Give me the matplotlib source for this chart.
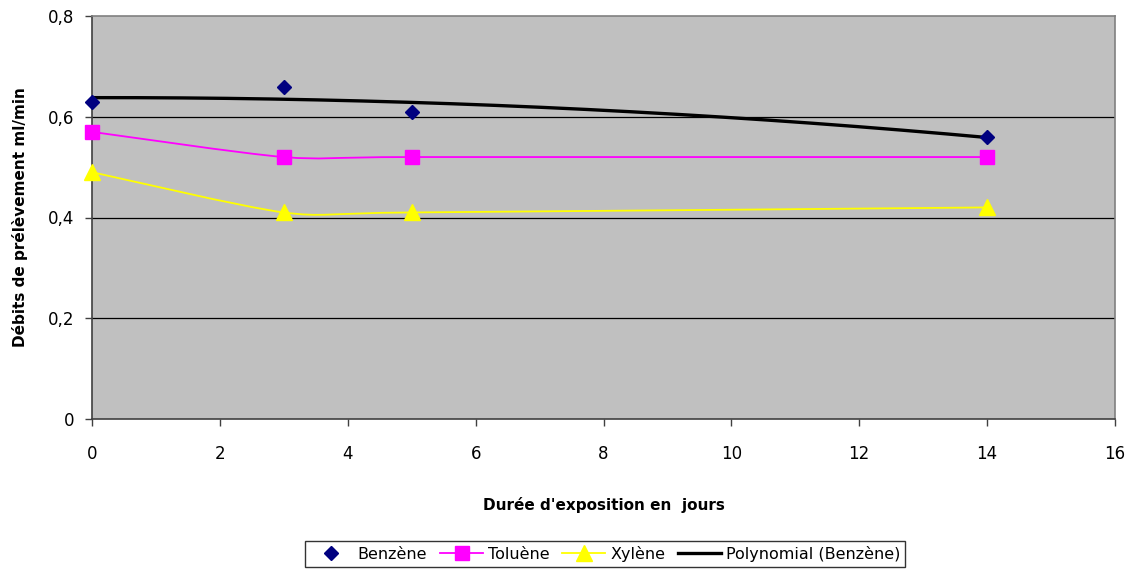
import numpy as np
import matplotlib
matplotlib.use('Agg')
import matplotlib.pyplot as plt
from matplotlib.path import Path
from matplotlib.patches import PathPatch
from matplotlib.lines import Line2D
from matplotlib.ticker import FuncFormatter

plt.rcParams['font.family'] = ['DejaVu Sans']

jours = [0, 3, 5, 14]
benzene = [0.63, 0.66, 0.61, 0.56]
toluene = [0.57, 0.52, 0.52, 0.52]
xylene = [0.49, 0.41, 0.41, 0.42]

def smooth_path(x, y, t=1/6.):
    # excel-like smoothed line (catmull-rom -> bezier)
    x = np.asarray(x, float); y = np.asarray(y, float)
    n = len(x)
    verts = [(x[0], y[0])]
    codes = [Path.MOVETO]
    for i in range(n - 1):
        i0 = max(i - 1, 0); i3 = min(i + 2, n - 1)
        c1 = (x[i] + (x[i+1] - x[i0]) * t, y[i] + (y[i+1] - y[i0]) * t)
        c2 = (x[i+1] - (x[i3] - x[i]) * t, y[i+1] - (y[i3] - y[i]) * t)
        verts += [c1, c2, (x[i+1], y[i+1])]
        codes += [Path.CURVE4] * 3
    return Path(verts, codes)

fig = plt.figure(figsize=(11.33, 5.74), dpi=100)
ax = fig.add_axes([92/1133, 1-419/574, (1115-92)/1133, (419-16)/574])
ax.set_facecolor('#C0C0C0')

for yy in [0.2, 0.4, 0.6]:
    ax.axhline(yy, color='black', lw=0.9, zorder=1)

ax.add_patch(PathPatch(smooth_path(jours, toluene, 1/8.), fc='none', ec='#FF00FF', lw=1.3, zorder=2))
ax.add_patch(PathPatch(smooth_path(jours, xylene, 1/8.), fc='none', ec='#FFFF00', lw=1.3, zorder=2))

coef = np.polyfit(jours, benzene, 2)
xs = np.linspace(0, 14, 200)
ax.plot(xs, np.polyval(coef, xs), color='black', lw=2.4, zorder=3)

ax.plot(jours, toluene, ls='none', marker='s', ms=10, color='#FF00FF', zorder=4, clip_on=False)
ax.plot(jours, xylene, ls='none', marker='^', ms=11, color='#FFFF00', zorder=4, clip_on=False)
ax.plot(jours, benzene, ls='none', marker='D', ms=7, color='#000080', zorder=5, clip_on=False)

ax.set_xlim(0, 16)
ax.set_ylim(0, 0.8)
ax.set_xticks(range(0, 17, 2))
ax.set_yticks([0, 0.2, 0.4, 0.6, 0.8])
ax.yaxis.set_major_formatter(FuncFormatter(lambda v, p: '0' if v == 0 else ('%.1f' % v).replace('.', ',')))
ax.tick_params(direction='out', length=5, width=1, labelsize=12, color='#404040', pad=8)
ax.tick_params(axis='x', pad=14)
for s in ['top', 'right']:
    ax.spines[s].set_color('#808080')
for s in ['left', 'bottom']:
    ax.spines[s].set_color('#404040')
for s in ax.spines.values():
    s.set_linewidth(1.2)

ax.set_xlabel("Durée d'exposition en  jours", fontsize=11, fontweight='bold', labelpad=24)
ax.set_ylabel('Débits de prélèvement ml/min', fontsize=11, fontweight='bold', labelpad=14)

handles = [
    Line2D([], [], ls='none', marker='D', ms=7, color='#000080'),
    Line2D([], [], color='#FF00FF', lw=1.3, marker='s', ms=10),
    Line2D([], [], color='#FFFF00', lw=1.3, marker='^', ms=11),
    Line2D([], [], color='black', lw=2.4),
]
labels = ['Benzène', 'Toluène', 'Xylène', 'Polynomial (Benzène)']
leg = fig.legend(handles, labels, loc='upper center', bbox_to_anchor=(605/1133, 1-541/574),
                 ncol=4, fontsize=11.5, frameon=True, fancybox=False, handlelength=2.7,
                 handletextpad=0.3, columnspacing=0.8, borderpad=0.3, borderaxespad=0.0)
leg.get_frame().set_edgecolor('black')
leg.get_frame().set_linewidth(1.0)

fig.savefig('out.png', dpi=100)
